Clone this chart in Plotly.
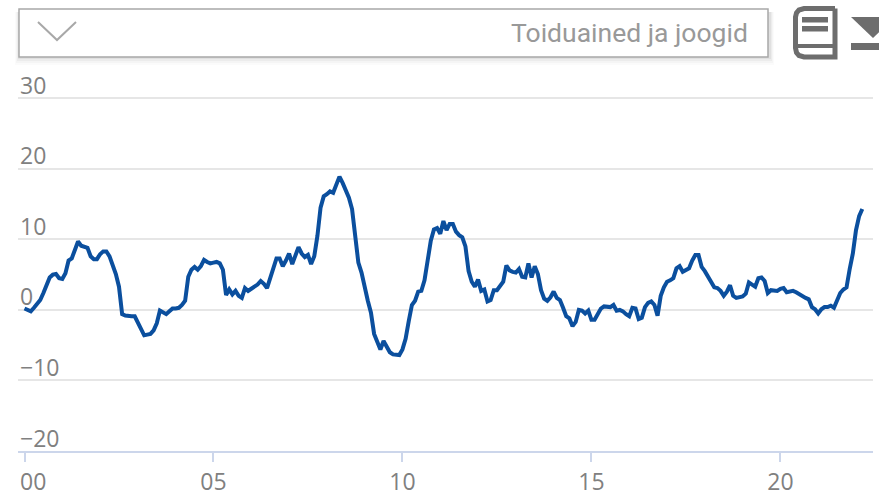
import plotly.graph_objects as go

W, H = 879, 493
ML, MR, MT, MB = 18, 6, 56, 42

TITLE = "Toiduained ja joogid"
FIRST_YEAR = 2000
X_TICKS = [2000, 2005, 2010, 2015, 2020]
X_LABELS = ["00", "05", "10", "15", "20"]
Y_TICKS = [-20, -10, 0, 10, 20, 30]
Y_LABELS = ["\u221220", "\u221210", "0", "10", "20", "30"]

v2000 = [0.2, 0.0, -0.2, 0.3, 0.8, 1.4, 2.4, 3.7, 4.6, 5.0, 5.1, 4.5]
v2001 = [4.4, 5.2, 7.0, 7.3, 8.7, 9.7, 9.1, 9.0, 8.8, 7.6, 7.2, 7.2]
v2002 = [7.9, 8.3, 8.3, 7.6, 6.4, 5.1, 3.3, -0.6, -0.8, -0.9, -0.9, -0.9]
v2003 = [-1.8, -2.8, -3.6, -3.5, -3.4, -2.9, -1.9, -0.1, -0.4, -0.6, -0.2, 0.2]
v2004 = [0.2, 0.3, 0.7, 1.3, 4.7, 5.7, 6.1, 5.7, 6.2, 7.1, 6.8, 6.6]
v2005 = [6.7, 6.8, 6.6, 5.7, 2.1, 2.9, 2.2, 2.7, 2.0, 1.7, 3.1, 2.7]
v2006 = [3.0, 3.3, 3.6, 4.1, 3.7, 3.1, 4.5, 6.0, 7.3, 7.3, 6.2, 7.0]
v2007 = [8.0, 6.5, 7.8, 8.9, 8.0, 7.5, 7.8, 6.5, 7.6, 10.5, 14.5, 16.1]
v2008 = [16.4, 16.8, 16.6, 17.7, 18.9, 18.0, 17.0, 15.9, 14.3, 10.8, 6.7, 5.3]
v2009 = [3.0, 1.3, -0.4, -3.4, -4.5, -5.6, -4.4, -5.3, -6.0, -6.3, -6.4, -6.4]
v2010 = [-5.6, -4.1, -1.6, 0.7, 1.3, 2.6, 2.7, 4.2, 7.0, 9.8, 11.4, 11.6]
v2011 = [10.8, 12.6, 11.3, 12.2, 12.2, 11.1, 10.6, 10.3, 9.0, 5.5, 4.0, 3.3]
v2012 = [4.3, 2.7, 2.9, 1.2, 1.4, 2.8, 2.8, 3.4, 4.0, 6.3, 5.6, 5.4]
v2013 = [5.3, 5.8, 4.7, 4.6, 6.6, 4.6, 6.2, 5.1, 2.8, 1.6, 1.3, 1.8]
v2014 = [2.6, 1.7, 1.4, 0.3, -0.9, -1.2, -2.3, -1.7, 0.0, -0.1, -0.5, -0.1]
v2015 = [-1.4, -1.4, -0.6, 0.2, 0.5, 0.5, 0.4, 0.7, -0.1, 0.0, -0.2, -0.6]
v2016 = [-0.9, 0.3, 0.2, -1.3, -1.1, 0.4, 1.0, 1.2, 0.7, -0.8, 2.0, 3.2]
v2017 = [4.0, 4.2, 4.5, 5.9, 6.2, 5.4, 5.7, 5.9, 7.0, 7.8, 7.8, 6.1]
v2018 = [5.5, 4.7, 3.8, 3.2, 3.1, 2.7, 2.0, 2.6, 3.5, 2.0, 1.7, 1.8]
v2019 = [1.9, 2.3, 3.9, 3.6, 3.3, 4.5, 4.6, 4.1, 2.4, 2.8, 2.8, 2.7]
v2020 = [3.0, 3.1, 2.5, 2.6, 2.7, 2.5, 2.2, 1.9, 1.7, 1.5, 0.4, 0.1]
v2021 = [-0.5, 0.1, 0.4, 0.4, 0.6, 0.3, 1.4, 2.4, 2.9, 3.2, 5.8, 8.0]
v2022 = [11.3, 13.3, 14.3]

values = (v2000 + v2001 + v2002 + v2003 + v2004 + v2005 + v2006 + v2007 + v2008
          + v2009 + v2010 + v2011 + v2012 + v2013 + v2014 + v2015 + v2016 + v2017
          + v2018 + v2019 + v2020 + v2021 + v2022)
months = [FIRST_YEAR + i / 12 for i in range(len(values))]

TEXT = "#808080"
GRID = "#e6e6e6"
AXIS = "#ccd6eb"
ICON = "#6d6d6d"
BORDER = "#a8a8a8"
FONT = "Open Sans"


def px(x):
    return (x - ML) / (W - ML - MR)


def py(y):
    return 1 - (y - MT) / (H - MT - MB)


def rect(x0, y0, x1, y1, **kw):
    return dict(type="rect", xref="paper", yref="paper", x0=px(x0), x1=px(x1),
                y0=py(y1), y1=py(y0), layer="above", **kw)


def path(points, close=False, **kw):
    d = "M" + " L".join(f"{px(a):.5f},{py(b):.5f}" for a, b in points) + (" Z" if close else "")
    return dict(type="path", xref="paper", yref="paper", path=d, layer="above", **kw)


shapes = []
# soft shadow below the drop-down
for i, alpha in zip(range(8, 0, -2), (0.015, 0.025, 0.035, 0.05)):
    shapes.append(rect(19 - i / 2, 12, 770 + i / 2, 57 + i, fillcolor=f"rgba(0,0,0,{alpha})",
                       line=dict(width=0)))
# drop-down box and chevron
shapes.append(rect(19, 9, 768, 57, fillcolor="white", line=dict(color=BORDER, width=1.5)))
shapes.append(path([(38, 22), (57, 40), (76, 22)], line=dict(color=BORDER, width=2)))
# book icon
shapes.append(path([(835, 8.5), (804, 8.5), (799, 10), (796.5, 13), (795.5, 17), (795.5, 48),
                    (796.5, 52.5), (799, 55.5), (804, 57), (835, 57), (835, 8.5)],
                   line=dict(color=ICON, width=5)))
shapes.append(path([(797, 46), (835, 46)], line=dict(color=ICON, width=4)))
shapes.append(rect(802, 17, 828, 22.5, fillcolor=ICON, line=dict(width=0)))
shapes.append(rect(802, 26, 828, 31.5, fillcolor=ICON, line=dict(width=0)))
# download icon
shapes.append(path([(851, 17), (895, 17), (873, 38)], close=True, fillcolor=ICON, line=dict(width=0)))
shapes.append(rect(851, 43, 879, 50, fillcolor=ICON, line=dict(width=0)))

annotations = [
    dict(text=TITLE, xref="paper", yref="paper", x=px(750), y=py(33), xanchor="right",
         yanchor="middle", showarrow=False,
         font=dict(family="Roboto", size=26.5, color="#999999")),
    dict(text=X_LABELS[0], xref="x", yref="paper", x=X_TICKS[0], y=py(481), xanchor="center",
         yanchor="middle", xshift=8, showarrow=False,
         font=dict(family=FONT, size=23, color=TEXT)),
]
for tick, label in zip(Y_TICKS, Y_LABELS):
    annotations.append(dict(text=label, xref="paper", yref="y", x=px(17.5), y=tick, xanchor="left",
                            yanchor="middle", yshift=13.5, showarrow=False,
                            font=dict(family=FONT, size=23, color=TEXT)))

fig = go.Figure(go.Scatter(x=months, y=values, mode="lines",
                           line=dict(color="#0b4f9e", width=4), hoverinfo="skip"))

fig.update_layout(
    width=W, height=H, autosize=False,
    margin=dict(l=ML, r=MR, t=MT, b=MB, pad=0),
    paper_bgcolor="white", plot_bgcolor="white",
    showlegend=False,
    font=dict(family=FONT, color=TEXT, size=23),
    shapes=shapes,
    annotations=annotations,
    xaxis=dict(
        automargin=False,
        range=[FIRST_YEAR - 0.172, FIRST_YEAR + 22.45],
        tickmode="array", tickvals=X_TICKS, ticktext=[""] + X_LABELS[1:],
        showgrid=False, zeroline=False,
        showline=True, linecolor=AXIS, linewidth=2,
        ticks="outside", tickcolor=AXIS, tickwidth=2, ticklen=9,
        tickfont=dict(family=FONT, size=23, color=TEXT),
        fixedrange=True,
    ),
    yaxis=dict(
        automargin=False,
        range=[-20, 36],
        tickmode="array", tickvals=Y_TICKS,
        showgrid=True, gridcolor=GRID, gridwidth=2, zeroline=False,
        showline=False, ticks="", showticklabels=False,
        fixedrange=True,
    ),
)

fig.write_html("out.html", config=dict(displayModeBar=False),
               post_script="document.body.style.margin='0';document.body.style.overflow='hidden';")
